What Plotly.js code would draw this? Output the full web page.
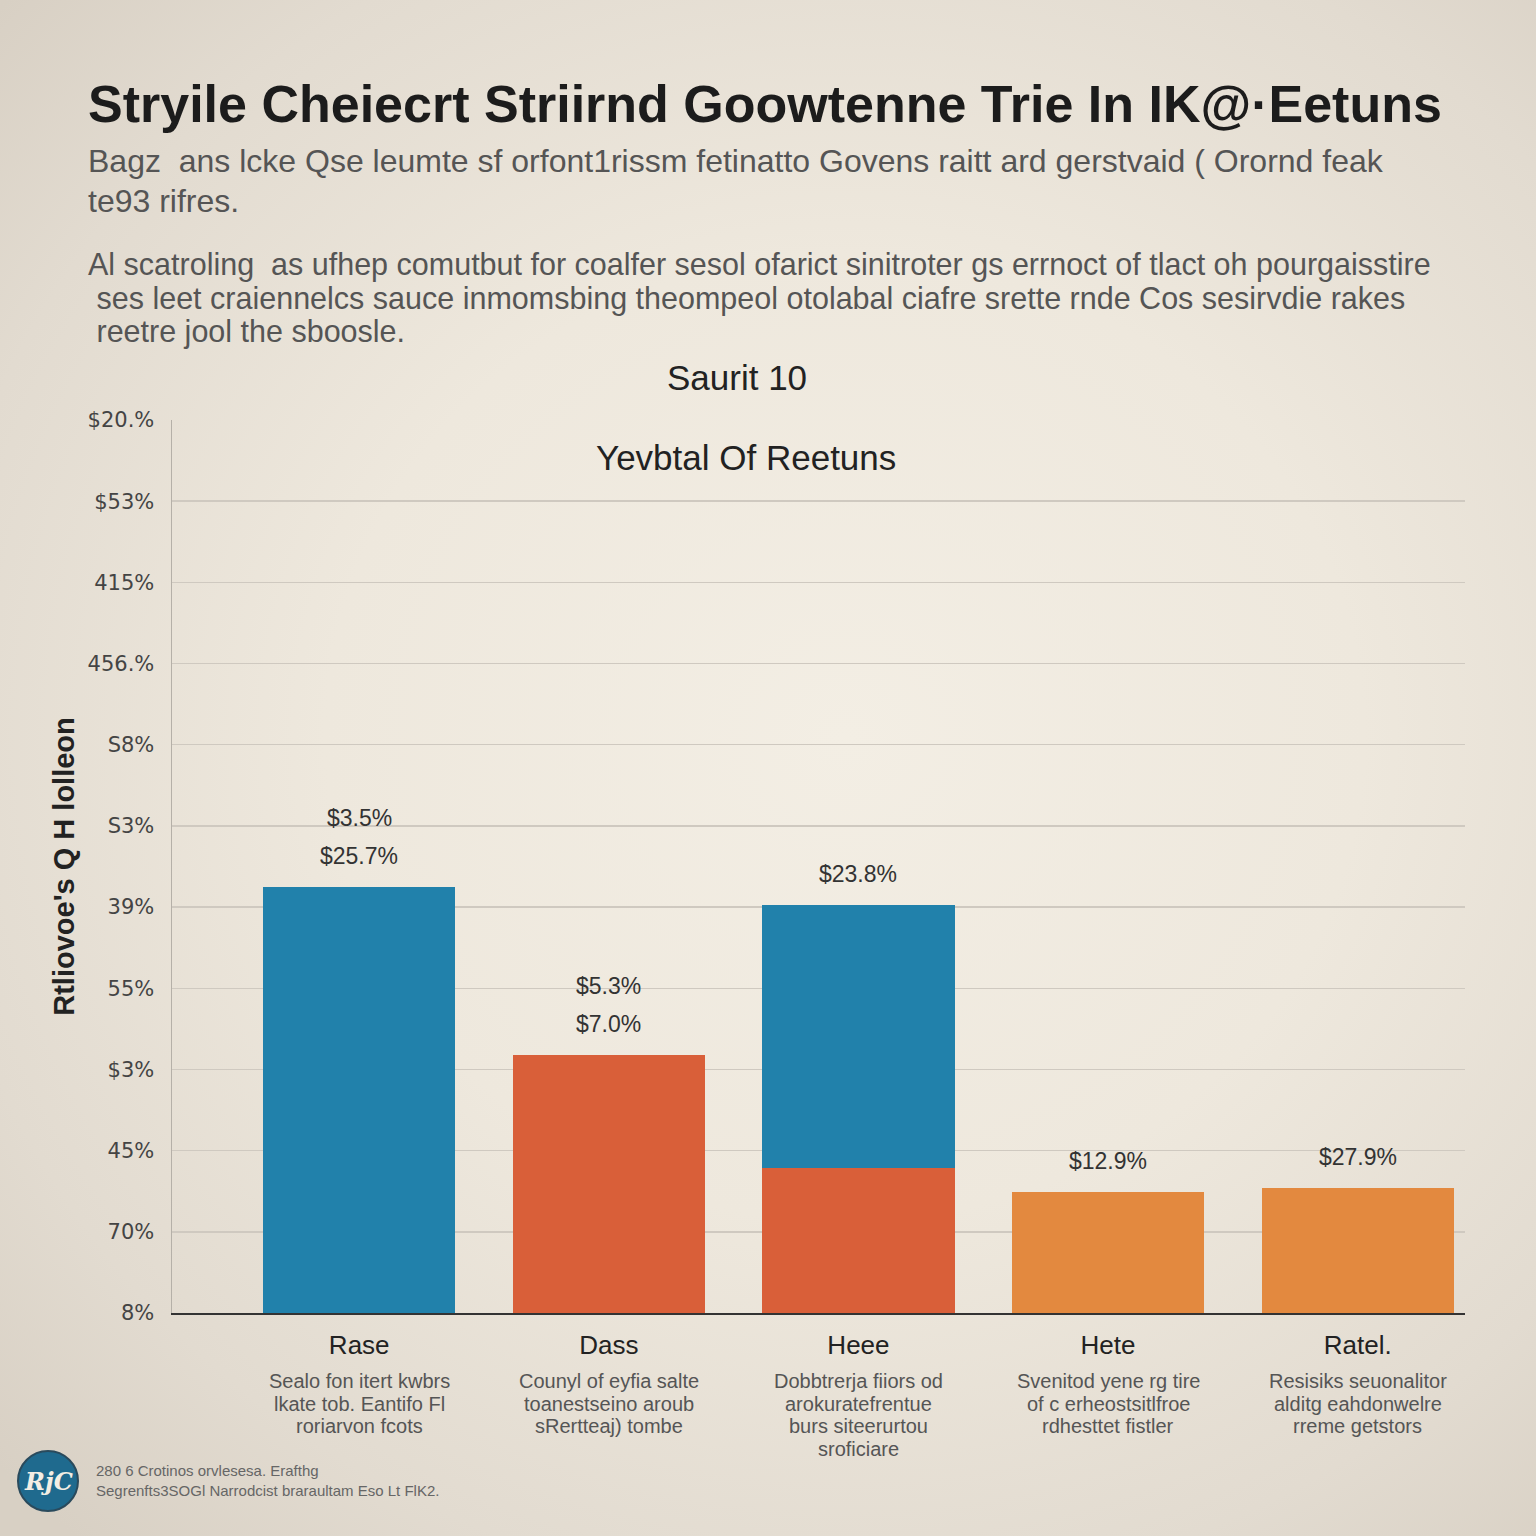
<!DOCTYPE html>
<html><head><meta charset="utf-8">
<script src="https://cdn.plot.ly/plotly-3.0.1.min.js"></script>
<style>
html,body{margin:0;padding:0;width:1536px;height:1536px;overflow:hidden;
background:radial-gradient(ellipse 75% 70% at 55% 48%, #f3eee4 0%, #eee8dd 45%, #e2dbd0 80%, #d8d0c4 100%);}
#chart{width:1536px;height:1536px;}
</style>
</head><body><div id="chart"></div>
<script>
// ---- data ----
const categories = ["Rase", "Dass", "Heee", "Hete", "Ratel."];
const baseValues = [52.5, 31.8, 17.9, 14.9, 15.4];
const stackValues = [null, null, 32.3, null, null];
const labelMain = ["$25.7%", "$7.0%", "$23.8%", "$12.9%", "$27.9%"];
const labelExtra = ["$3.5%", "$5.3%", "", "", ""];
const descriptions = [
  ["Sealo fon itert kwbrs", "lkate tob. Eantifo Fl", "roriarvon fcots"],
  ["Counyl of eyfia salte", "toanestseino aroub", "sRertteaj) tombe"],
  ["Dobbtrerja fiiors od", "arokuratefrentue", "burs siteerurtou", "sroficiare"],
  ["Svenitod yene rg tire", "of c erheostsitlfroe", "rdhesttet fistler"],
  ["Resisiks seuonalitor", "alditg eahdonwelre", "rreme getstors"]
];
const yTickVals = [0, 10, 20, 30, 40, 50, 60, 70, 80, 90, 100, 110];
const yTickText = ["8%", "70%", "45%", "$3%", "55%", "39%", "S3%", "S8%", "456.%", "415%", "$53%", "$20.%"];

const titleText = "Stryile Cheiecrt Striirnd Goowtenne Trie In IK@·Eetuns";
const introLines = ["Bagz  ans lcke Qse leumte sf orfont1rissm fetinatto Govens raitt ard gerstvaid ( Orornd feak", "te93 rifres."];
const bodyLines = ["Al scatroling  as ufhep comutbut for coalfer sesol ofarict sinitroter gs errnoct of tlact oh pourgaisstire",
                   " ses leet craiennelcs sauce inmomsbing theompeol otolabal ciafre srette rnde Cos sesirvdie rakes",
                   " reetre jool the sboosle."];
const chartHeading = "Saurit 10";
const plotHeading = "Yevbtal Of Reetuns";
const yTitle = "Rtliovoe's Q H lolleon";
const footerLines = ["280 6 Crotinos orvlesesa. Erafthg", "Segrenfts3SOGl Narrodcist braraultam Eso Lt FlK2."];

const BLUE = "#2181ab", RED = "#d95f39", ORANGE = "#e3893f";
const baseColors = [BLUE, RED, RED, ORANGE, ORANGE];

// ---- geometry helpers (layout only) ----
const L = 172, R = 71, T = 420, B = 223, W = 1536, H = 1536;
const PW = W - L - R, PH = H - T - B;
const px = x => (x - L) / PW;
const py = y => (H - B - y) / PH;

const SANS = "Liberation Sans, Arial, sans-serif";

const traces = [
  {type: "bar", x: categories, y: baseValues, marker: {color: baseColors}, width: 0.77, hoverinfo: "none"},
  {type: "bar", x: categories, y: stackValues, marker: {color: BLUE}, width: 0.77, hoverinfo: "none"}
];

const ann = [];
ann.push({text: titleText, xref: "paper", yref: "paper", x: px(86), y: py(104), xanchor: "left", yanchor: "middle",
          showarrow: false, font: {family: SANS, size: 52, color: "#1c1c1c", weight: 700}});
introLines.forEach((t, i) => ann.push({text: t, xref: "paper", yref: "paper", x: px(86), y: py(161 + i * 40),
  xanchor: "left", yanchor: "middle", showarrow: false, font: {family: SANS, size: 32, color: "#555"}}));
bodyLines.forEach((t, i) => ann.push({text: t, xref: "paper", yref: "paper", x: px(86), y: py(265 + i * 33),
  xanchor: "left", yanchor: "middle", showarrow: false, font: {family: SANS, size: 30.5, color: "#555"}}));
ann.push({text: chartHeading, xref: "paper", yref: "paper", x: px(737), y: py(377), xanchor: "center", yanchor: "middle",
          showarrow: false, font: {family: SANS, size: 35, color: "#222"}});
ann.push({text: plotHeading, xref: "paper", yref: "paper", x: px(746), y: py(458), xanchor: "center", yanchor: "middle",
          showarrow: false, font: {family: SANS, size: 35, color: "#222"}});

categories.forEach((c, i) => {
  const total = baseValues[i] + (stackValues[i] || 0);
  ann.push({text: labelMain[i], x: c, y: total, xref: "x", yref: "y", yanchor: "middle", yshift: 31,
            showarrow: false, font: {family: SANS, size: 23, color: "#333"}});
  if (labelExtra[i]) ann.push({text: labelExtra[i], x: c, y: total, xref: "x", yref: "y", yanchor: "middle", yshift: 69,
            showarrow: false, font: {family: SANS, size: 23, color: "#333"}});
  descriptions[i].forEach((line, k) => ann.push({text: line, x: c, xref: "x", yref: "paper", y: py(1381 + k * 22.7),
            yanchor: "middle", showarrow: false, font: {family: SANS, size: 20, color: "#555"}}));
});

footerLines.forEach((t, i) => ann.push({text: t, xref: "paper", yref: "paper", x: px(94), y: py(1470 + i * 20),
  xanchor: "left", yanchor: "middle", showarrow: false, font: {family: SANS, size: 15, color: "#666"}}));
ann.push({text: "<i>RjC</i>", xref: "paper", yref: "paper", x: px(48), y: py(1481), xanchor: "center", yanchor: "middle",
          showarrow: false, font: {family: "DejaVu Serif, serif", size: 24, color: "#f3eee4", weight: 700}});

const layout = {
  width: W, height: H,
  margin: {l: L, r: R, t: T, b: B, pad: 0},
  paper_bgcolor: "rgba(0,0,0,0)", plot_bgcolor: "rgba(0,0,0,0)",
  barmode: "stack", showlegend: false,
  xaxis: {type: "category", range: [-0.75, 4.43], showgrid: false, zeroline: false,
          showline: true, linecolor: "#333", linewidth: 2, ticks: "",
          tickfont: {family: SANS, size: 26, color: "#222"}, ticklabelstandoff: 8, fixedrange: true},
  yaxis: {range: [0, 110], tickvals: yTickVals, ticktext: yTickText, showgrid: true, gridcolor: "#cfc9c0", gridwidth: 1.5,
          zeroline: false, showline: true, linecolor: "#b5b0a8", linewidth: 1.5, ticks: "",
          tickfont: {family: "DejaVu Sans, sans-serif", size: 21, color: "#444"}, ticklabelstandoff: 12,
          title: {text: yTitle, standoff: 4, font: {family: SANS, size: 29, color: "#222", weight: 700}}, fixedrange: true},
  annotations: ann,
  shapes: [{type: "circle", xref: "paper", yref: "paper", x0: px(18), x1: px(78), y0: py(1451), y1: py(1511),
            fillcolor: "#1f6a8e", line: {color: "#2a4a5c", width: 2}}]
};

Plotly.newPlot("chart", traces, layout, {displayModeBar: false, staticPlot: true});
</script>
</body></html>
